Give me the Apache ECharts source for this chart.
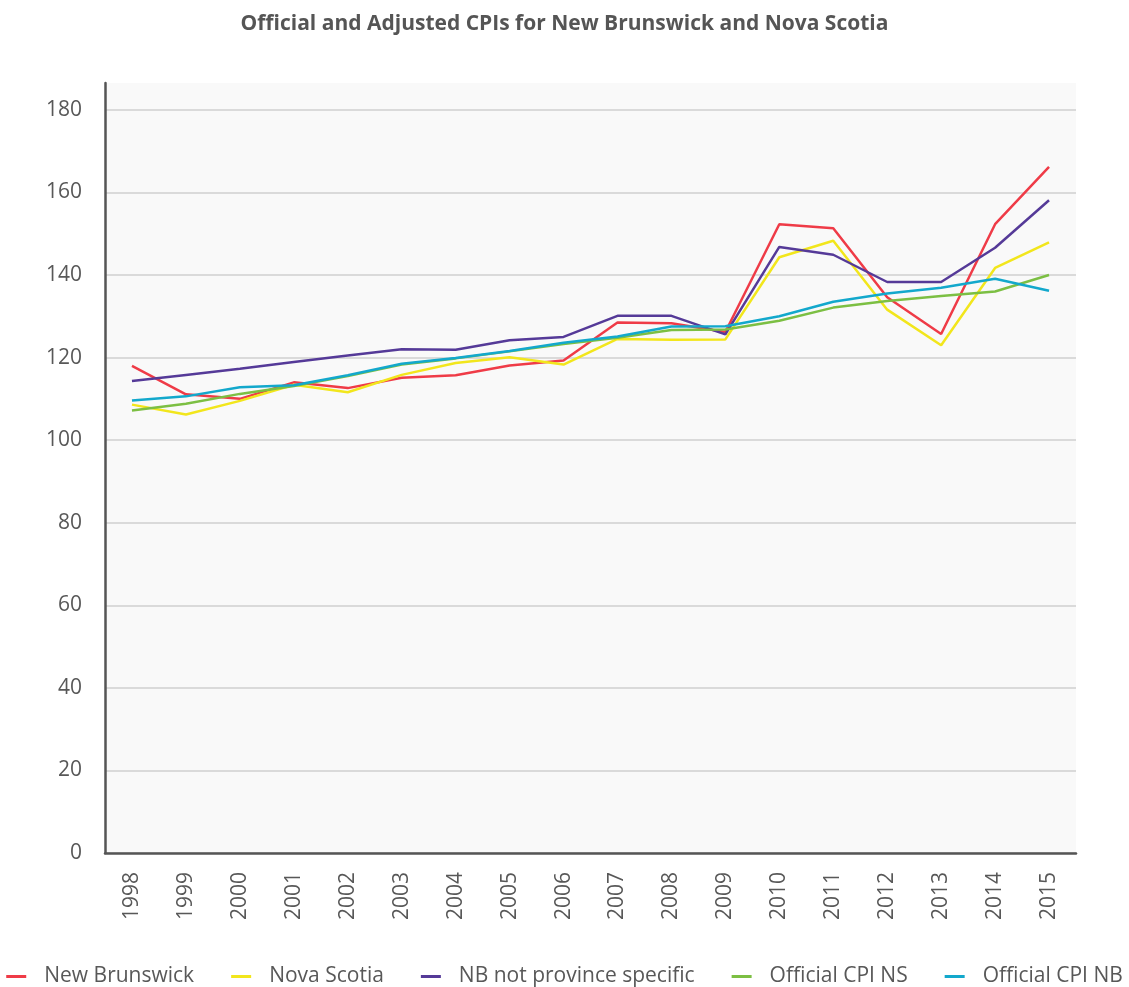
<!DOCTYPE html>
<html>
<head>
<meta charset="utf-8">
<style>
  html, body { margin: 0; padding: 0; background: #ffffff; }
  #chart { width: 1129px; height: 987px; }
</style>
<script src="https://cdn.jsdelivr.net/npm/echarts@6/dist/echarts.min.js"></script>
</head>
<body>
<div id="chart"></div>
<script>
// Years on the horizontal axis
const years = ['1998', '1999', '2000', '2001', '2002', '2003', '2004', '2005', '2006',
               '2007', '2008', '2009', '2010', '2011', '2012', '2013', '2014', '2015'];

// Adjusted CPI, New Brunswick
const newBrunswick = [118.0, 111.1, 110.0, 114.0, 112.6, 115.1, 115.7, 118.1, 119.3,
                      128.5, 128.3, 126.2, 152.3, 151.3, 134.6, 125.7, 152.3, 166.2];
// Adjusted CPI, Nova Scotia
const novaScotia = [108.6, 106.2, 109.5, 113.4, 111.6, 115.8, 118.7, 120.1, 118.3,
                    124.5, 124.3, 124.4, 144.3, 148.3, 131.6, 123.0, 141.7, 147.9];
// Adjusted CPI, NB (weights not province specific)
const nbNotProvince = [114.3, 115.8, 117.3, 118.9, 120.5, 122.0, 121.9, 124.2, 125.0,
                       130.1, 130.1, 125.6, 146.8, 144.9, 138.3, 138.3, 146.6, 158.1];
// Official CPI, Nova Scotia
const officialNS = [107.2, 108.8, 111.2, 113.1, 115.5, 118.3, 119.8, 121.5, 123.3,
                    124.8, 126.7, 126.8, 128.9, 132.1, 133.7, 134.9, 136.0, 140.0];
// Official CPI, New Brunswick
const officialNB = [109.6, 110.6, 112.8, 113.3, 115.7, 118.5, 119.9, 121.6, 123.6,
                    125.1, 127.5, 127.6, 130.0, 133.5, 135.5, 136.9, 139.1, 136.2];

const seriesNames = ['New Brunswick', 'Nova Scotia', 'NB not province specific',
                     'Official CPI NS', 'Official CPI NB'];
const seriesColors = ['#ef3b47', '#f2e61c', '#553a98', '#7cbf43', '#13a8cc'];
const seriesData = [newBrunswick, novaScotia, nbNotProvince, officialNS, officialNB];

const FONT = '"Open Sans", "Noto Sans", sans-serif';
const TEXT = '#585858';

// one split line per tick; the extra top tick (plot-area cap) stays hidden
const gridColors = [];
for (let i = 0; i < 10; i++) gridColors.push('#cfcfcf');
gridColors.push('rgba(0,0,0,0)');

const chart = echarts.init(document.getElementById('chart'), null, { renderer: 'canvas' });

chart.setOption({
  animation: false,
  backgroundColor: '#ffffff',
  textStyle: { fontFamily: FONT },
  title: {
    text: 'Official and Adjusted CPIs for New Brunswick and Nova Scotia',
    left: 'center',
    top: 9,
    textStyle: { fontFamily: FONT, fontSize: 21, fontWeight: 'bold', color: '#555555' }
  },
  grid: {
    left: 105,
    right: 53,
    top: 83,
    bottom: 134,
    show: true,
    backgroundColor: '#f9f9f9',
    borderWidth: 0
  },
  legend: {
    top: 961,
    left: 'center',
    icon: 'rect',
    itemWidth: 20,
    itemHeight: 3,
    itemGap: 37,
    textStyle: { fontFamily: FONT, fontSize: 21, color: TEXT, padding: [0, 0, 0, 13] },
    data: seriesNames
  },
  xAxis: {
    type: 'category',
    data: years,
    boundaryGap: true,
    axisLine: { show: true, lineStyle: { color: '#555555', width: 2.5 } },
    axisTick: { show: false },
    axisLabel: { rotate: 90, fontSize: 21, color: TEXT, margin: 19, fontFamily: FONT }
  },
  yAxis: {
    type: 'value',
    min: 0,
    max: 186.5,
    interval: 20,
    axisLine: { show: true, lineStyle: { color: '#555555', width: 2.5 } },
    axisTick: { show: false },
    axisLabel: { fontSize: 21, color: TEXT, margin: 23, fontFamily: FONT, showMaxLabel: false },
    splitLine: { show: true, lineStyle: { color: gridColors, width: 1.5 } }
  },
  series: seriesNames.map((name, i) => ({
    name: name,
    type: 'line',
    data: seriesData[i],
    symbol: 'none',
    color: seriesColors[i],
    lineStyle: { width: 2.5, color: seriesColors[i] },
    z: 2 + i
  }))
});
</script>
</body>
</html>
